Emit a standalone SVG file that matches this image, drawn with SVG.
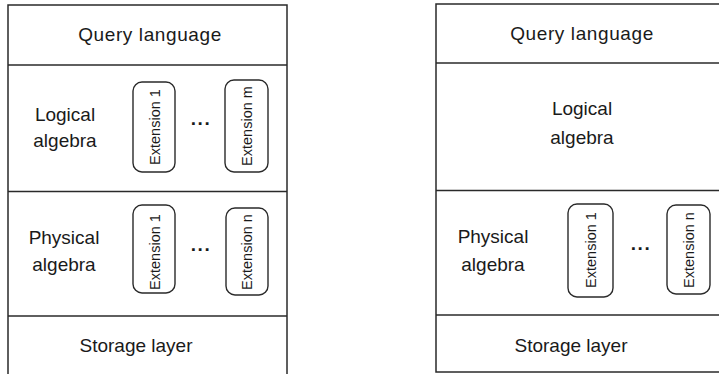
<svg xmlns="http://www.w3.org/2000/svg" width="719" height="374" viewBox="0 0 719 374">
<style>
.frame{fill:none;stroke:#2a2a2a;stroke-width:1.5}
.div{stroke:#2a2a2a;stroke-width:1.5}
.ext{fill:#fff;stroke:#2a2a2a;stroke-width:1.4}
.t{font-family:"Liberation Sans",Arial,sans-serif;font-size:19px;fill:#1a1a1a;text-anchor:middle}
.e{font-family:"Liberation Sans",Arial,sans-serif;font-size:14.5px;fill:#1a1a1a;text-anchor:middle}
.d{font-family:"Liberation Sans",Arial,sans-serif;font-size:19px;font-weight:bold;fill:#1a1a1a;text-anchor:middle;letter-spacing:1.5px}
</style>
<rect width="719" height="374" fill="#fff"/>
<g id="left-stack">
  <rect class="frame" x="8" y="5" width="279" height="380"/>
  <line class="div" x1="8" y1="65" x2="287" y2="65"/>
  <line class="div" x1="8" y1="191.5" x2="287" y2="191.5"/>
  <line class="div" x1="8" y1="316" x2="287" y2="316"/>
</g>
<g id="left-query"><text class="t" x="150" y="41" letter-spacing="0.6">Query language</text></g>
<g id="left-logical">
  <text class="t" x="65" y="121">Logical</text>
  <text class="t" x="65" y="147">algebra</text>
</g>
<g id="left-logical-ext1">
  <rect class="ext" x="133" y="82" width="42" height="90" rx="9"/>
  <text class="e" transform="translate(160,127) rotate(-90)">Extension 1</text>
</g>
<g id="left-logical-dots"><text class="d" x="201" y="125">...</text></g>
<g id="left-logical-extm">
  <rect class="ext" x="225" y="80" width="43" height="92" rx="9"/>
  <text class="e" transform="translate(252,126) rotate(-90)">Extension m</text>
</g>
<g id="left-physical">
  <text class="t" x="64" y="244">Physical</text>
  <text class="t" x="64" y="271">algebra</text>
</g>
<g id="left-physical-ext1">
  <rect class="ext" x="133" y="205" width="42" height="88" rx="9"/>
  <text class="e" transform="translate(160,252) rotate(-90)">Extension 1</text>
</g>
<g id="left-physical-dots"><text class="d" x="201" y="251">...</text></g>
<g id="left-physical-extn">
  <rect class="ext" x="226" y="208" width="42" height="87" rx="9"/>
  <text class="e" transform="translate(252,252) rotate(-90)">Extension n</text>
</g>
<g id="left-storage"><text class="t" x="136" y="352">Storage layer</text></g>

<g id="right-stack">
  <rect class="frame" x="436" y="4" width="300" height="368"/>
  <line class="div" x1="436" y1="63" x2="736" y2="63"/>
  <line class="div" x1="436" y1="190.5" x2="736" y2="190.5"/>
  <line class="div" x1="436" y1="315" x2="736" y2="315"/>
</g>
<g id="right-query"><text class="t" x="582" y="40" letter-spacing="0.6">Query language</text></g>
<g id="right-logical">
  <text class="t" x="582" y="115">Logical</text>
  <text class="t" x="582" y="144">algebra</text>
</g>
<g id="right-physical">
  <text class="t" x="493" y="243">Physical</text>
  <text class="t" x="493" y="271">algebra</text>
</g>
<g id="right-physical-ext1">
  <rect class="ext" x="568" y="204" width="45" height="93" rx="9"/>
  <text class="e" transform="translate(596,250) rotate(-90)">Extension 1</text>
</g>
<g id="right-physical-dots"><text class="d" x="641" y="250">...</text></g>
<g id="right-physical-extn">
  <rect class="ext" x="667" y="205" width="43" height="89" rx="9"/>
  <text class="e" transform="translate(694,250) rotate(-90)">Extension n</text>
</g>
<g id="right-storage"><text class="t" x="571" y="352">Storage layer</text></g>
<g id="connectors"/>
</svg>
